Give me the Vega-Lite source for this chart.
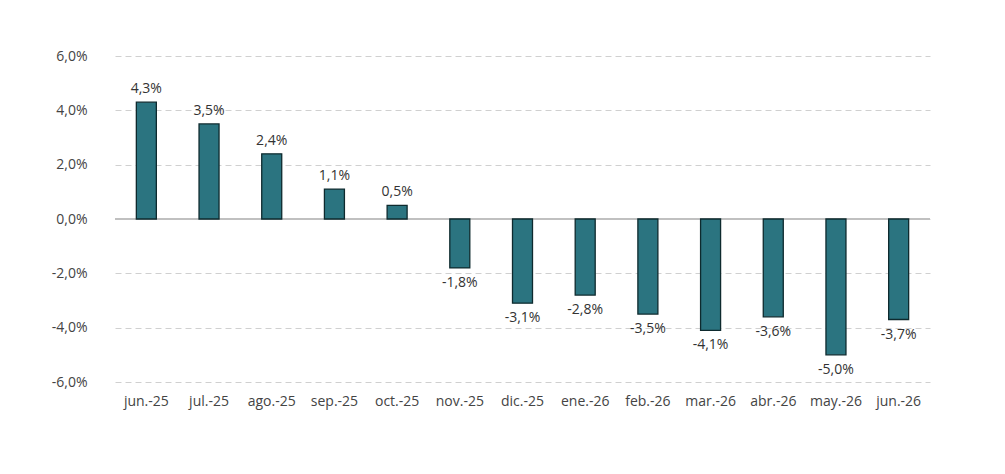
{
  "$schema": "https://vega.github.io/schema/vega-lite/v6.json",
  "width": 815,
  "height": 326,
  "autosize": {"type": "none"},
  "padding": {"left": 115, "top": 56, "right": 75, "bottom": 92},
  "background": "white",
  "config": {
    "locale": {"number": {"decimal": ",", "thousands": ".", "grouping": [3], "currency": ["", " €"], "minus": "-"}},
    "font": "Open Sans",
    "view": {"stroke": null}
  },
  "data": {
    "values": [
      {"mes": "jun.-25", "v": 0.043},
      {"mes": "jul.-25", "v": 0.035},
      {"mes": "ago.-25", "v": 0.024},
      {"mes": "sep.-25", "v": 0.011},
      {"mes": "oct.-25", "v": 0.005},
      {"mes": "nov.-25", "v": -0.018},
      {"mes": "dic.-25", "v": -0.031},
      {"mes": "ene.-26", "v": -0.028},
      {"mes": "feb.-26", "v": -0.035},
      {"mes": "mar.-26", "v": -0.041},
      {"mes": "abr.-26", "v": -0.036},
      {"mes": "may.-26", "v": -0.05},
      {"mes": "jun.-26", "v": -0.037}
    ]
  },
  "encoding": {
    "x": {"field": "mes", "type": "nominal", "sort": null, "title": null,
      "axis": {"labelAngle": 0, "domain": false, "ticks": false, "labelFontSize": 14, "labelColor": "#444", "labelPadding": 12, "orient": "bottom"}},
    "y": {"field": "v", "type": "quantitative", "title": null,
      "scale": {"domain": [-0.06, 0.06], "nice": false},
      "axis": {"values": [-0.06, -0.04, -0.02, 0, 0.02, 0.04, 0.06], "format": ".1%", "domain": false, "ticks": false,
        "labelFontSize": 14, "labelColor": "#444", "labelPadding": 28, "gridDash": [6, 4], "gridColor": "#d0d0d0"}}
  },
  "layer": [
    {"mark": {"type": "rule", "color": "#bfbfbf", "strokeWidth": 1.2}, "encoding": {"y": {"datum": 0}, "x": {"value": 0}, "x2": {"value": 815}}},
    {"mark": {"type": "bar", "width": 20, "color": "#2b7480", "stroke": "#0e2a2e", "strokeWidth": 1.3}},
    {"transform": [{"filter": "datum.v >= 0"}],
      "mark": {"type": "text", "baseline": "bottom", "dy": -6, "fontSize": 14, "color": "#333"},
      "encoding": {"text": {"field": "v", "type": "quantitative", "format": ".1%"}}},
    {"transform": [{"filter": "datum.v < 0"}],
      "mark": {"type": "text", "baseline": "top", "dy": 8, "fontSize": 14, "color": "#333"},
      "encoding": {"text": {"field": "v", "type": "quantitative", "format": ".1%"}}}
  ]
}
